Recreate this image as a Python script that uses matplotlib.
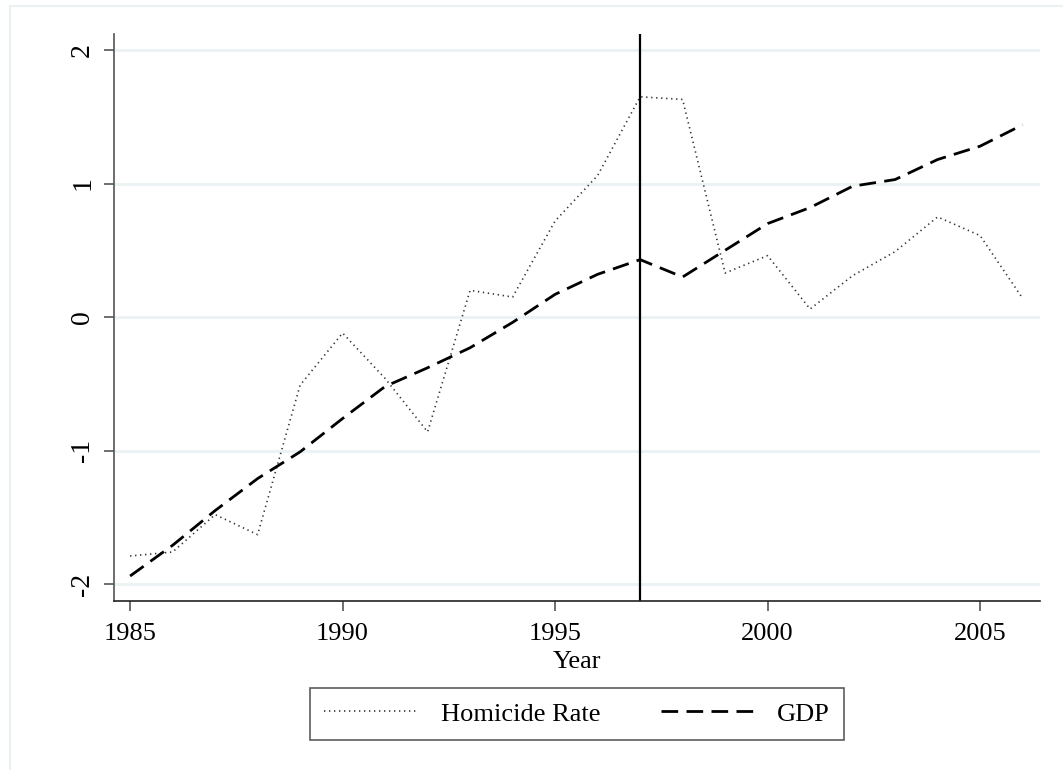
import matplotlib.pyplot as plt
from matplotlib.patches import Rectangle

years = list(range(1985, 2007))
homicide = [-1.79, -1.76, -1.48, -1.63, -0.51, -0.12, -0.46, -0.86, 0.20, 0.15,
            0.72, 1.06, 1.65, 1.63, 0.33, 0.46, 0.06, 0.31, 0.49, 0.75, 0.61, 0.14]
gdp = [-1.94, -1.71, -1.45, -1.21, -1.01, -0.76, -0.52, -0.38, -0.23, -0.04,
       0.17, 0.32, 0.43, 0.30, 0.50, 0.70, 0.82, 0.98, 1.03, 1.18, 1.28, 1.44]
break_year = 1997
x_ticks = [1985, 1990, 1995, 2000, 2005]
y_ticks = [-2, -1, 0, 1, 2]

plt.rcParams['font.family'] = ['Liberation Serif', 'DejaVu Serif']
fs = 19

fig = plt.figure(figsize=(10.63, 7.7), dpi=100)
# light outer frame around the whole graph region
fig.patches.append(Rectangle((10 / 1063, -0.01), 1.02, 1 - 6 / 770 + 0.01,
                             transform=fig.transFigure, fill=False,
                             edgecolor='#eaf1f3', lw=1.5))

ax = fig.add_axes([0.1072, 0.2195, 0.8712, 0.7363])

ax.plot(years, homicide, color='#333333', lw=1.2, linestyle=(0, (0.8, 2.2)),
        label='Homicide Rate')
ax.plot(years, gdp, color='black', lw=2, linestyle=(0, (6, 3)), label='GDP')
ax.axvline(break_year, color='black', lw=1.6)

ax.set_xlim(1984.62, 2006.41)
ax.set_ylim(-2.127, 2.12)
ax.set_xticks(x_ticks)
ax.set_yticks(y_ticks)
ax.set_yticklabels([str(v) for v in y_ticks], rotation=90, va='center',
                   fontsize=20)
ax.grid(axis='y', color='#eaf2f3', lw=2)
ax.set_axisbelow(True)

for side in ['top', 'right']:
    ax.spines[side].set_visible(False)
ax.spines['left'].set_color('#555555')
ax.spines['bottom'].set_color('#222222')
ax.spines['left'].set_linewidth(1.2)
ax.spines['bottom'].set_linewidth(1.2)
ax.tick_params(axis='both', direction='out', length=7.5, width=1.2,
               color='#555555', pad=6)
ax.tick_params(axis='x', labelsize=fs, pad=8)

ax.set_xlabel('Year', fontsize=fs, labelpad=5)

leg = ax.legend(loc='upper center', bbox_to_anchor=(0.5, -0.153), ncol=2,
                frameon=True, fancybox=False, edgecolor='#333333',
                fontsize=fs, handlelength=3.6, columnspacing=2.3,
                borderpad=0.55, borderaxespad=0, handletextpad=0.8)
leg.get_frame().set_linewidth(1.2)

fig.savefig('out.png', dpi=100)
